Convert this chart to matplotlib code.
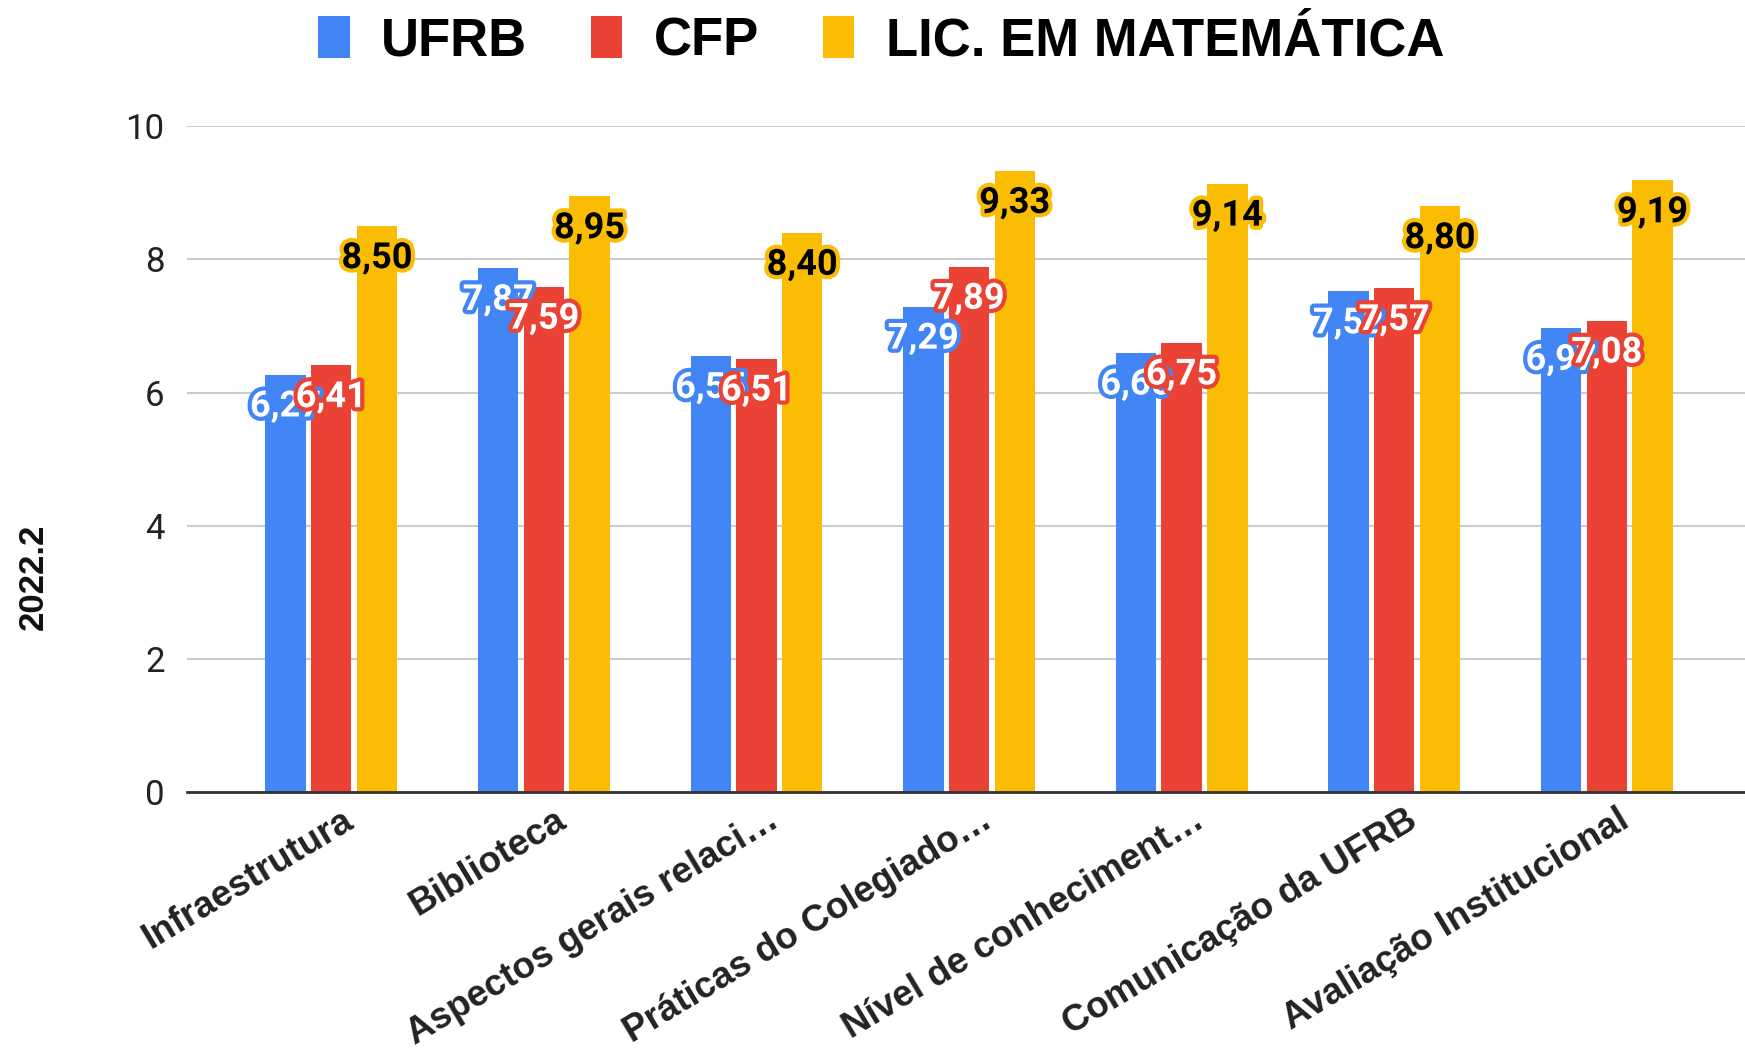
import numpy as np
import matplotlib
matplotlib.use("Agg")
import matplotlib.pyplot as plt
import matplotlib.patheffects as pe
from matplotlib.patches import Patch

plt.rcParams['font.family'] = ['Roboto', 'DejaVu Sans']
arial = ['Liberation Sans', 'DejaVu Sans']

categorias = ["Infraestrutura", "Biblioteca", "Aspectos gerais relaci…",
              "Práticas do Colegiado…", "Nível de conheciment…",
              "Comunicação da UFRB", "Avaliação Institucional"]
ufrb = [6.27, 7.87, 6.55, 7.29, 6.60, 7.52, 6.97]
cfp = [6.41, 7.59, 6.51, 7.89, 6.75, 7.57, 7.08]
lic = [8.50, 8.95, 8.40, 9.33, 9.14, 8.80, 9.19]
series = ["UFRB", "CFP", "LIC. EM MATEMÁTICA"]
cores = ["#4285f4", "#ea4335", "#fbbc04"]
cor_texto = ["white", "white", "black"]

fig = plt.figure(figsize=(17.45, 10.54), dpi=100)
ax = fig.add_axes([0.107, 0.249, 0.893, 0.631])

x = np.arange(len(categorias))
w = 0.19
step = 0.215
for i, vals in enumerate([ufrb, cfp, lic]):
    xs = x + (i - 1) * step
    ax.bar(xs, vals, width=w, color=cores[i], zorder=3)
    for xi, v in zip(xs, vals):
        t = ax.text(xi, v - 0.48, f"{v:.2f}".replace(".", ","), ha="center",
                    va="center", fontsize=26, fontweight="bold",
                    color=cor_texto[i], zorder=5 + i)
        t.set_path_effects([pe.withStroke(linewidth=6, foreground=cores[i])])

ax.set_xlim(-0.68, 6.65)
ax.set_ylim(0, 10)
ax.set_yticks([0, 2, 4, 6, 8, 10])
ax.grid(axis="y", color="#cccccc", linewidth=1.5, zorder=0)
ax.tick_params(axis="y", length=0, labelsize=25, pad=16, labelcolor="#222222")
ax.tick_params(axis="x", length=0, pad=8)
for s in ["top", "right", "left"]:
    ax.spines[s].set_visible(False)
ax.spines["bottom"].set_color("#333333")
ax.spines["bottom"].set_linewidth(2)
ax.spines["bottom"].set_zorder(4)

ax.set_xticks(x + 0.05)
ax.set_xticklabels(categorias, rotation=31, ha="right", rotation_mode="anchor",
                   fontsize=26.5, fontweight="bold", color="#222222", family=arial)
fig.text(0.019, 0.453, "2022.2", rotation=90, ha="center", va="center",
         fontsize=25, fontweight="bold", family=arial, color="#111111")

handles = [Patch(facecolor=c, label=s) for c, s in zip(cores, series)]
fig.legend(handles=handles, loc="upper center", bbox_to_anchor=(0.505, 1.03),
           ncol=3, frameon=False, handlelength=0.6, handleheight=0.85,
           handletextpad=0.6, columnspacing=1.2,
           prop={"weight": "bold", "size": 38, "family": arial})

fig.savefig("out.png", dpi=100, facecolor="white")
